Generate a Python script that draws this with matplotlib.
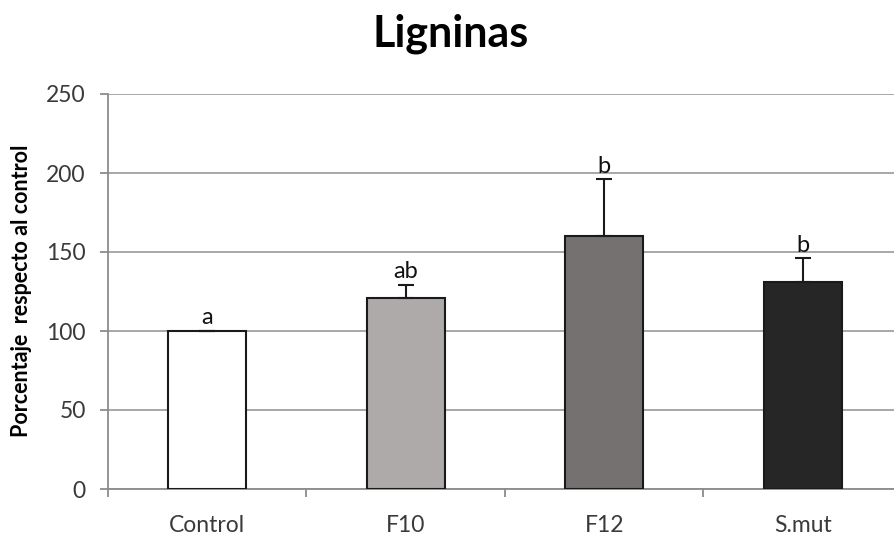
import matplotlib
matplotlib.use("Agg")
import matplotlib.pyplot as plt
from matplotlib.ticker import FixedLocator

# data
groups = ["Control", "F10", "F12", "S.mut"]
means = [100, 121, 160, 131]
errs = [0, 8, 36, 15]
letters = ["a", "ab", "b", "b"]
colors = ["#FFFFFF", "#AEAAAA", "#757171", "#262626"]

plt.rcParams["font.family"] = ["Lato", "DejaVu Sans"]

W, H = 895, 538
fig = plt.figure(figsize=(W / 100, H / 100), dpi=100)
ax = fig.add_axes([108 / W, 49 / H, 794 / W, 395 / H])

x = list(range(len(groups)))
ax.bar(x, means, width=0.393, color=colors, edgecolor="#1a1a1a", linewidth=1.5, zorder=3)
ax.errorbar(x, means, yerr=[[0] * len(errs), errs], fmt="none", ecolor="#1a1a1a",
            elinewidth=1.5, capsize=6, capthick=1.5, zorder=4)

for xi, m, e, lab in zip(x, means, errs, letters):
    ax.annotate(lab, xy=(xi, m + e), xytext=(0, 2), textcoords="offset points",
                ha="center", va="bottom", fontsize=17, color="#111111")

ax.set_xlim(-0.5, 3.5)
ax.set_ylim(0, 250)
ax.set_yticks(range(0, 251, 50))
ax.grid(axis="y", color="#A0A0A0", lw=1.3, zorder=0)

ax.set_xticks(x)
ax.set_xticklabels(groups)
ax.xaxis.set_minor_locator(FixedLocator([-0.5, 0.5, 1.5, 2.5, 3.5]))
ax.tick_params(axis="x", which="major", length=0, pad=19, labelsize=16.5, labelcolor="#3a3a3a")
ax.tick_params(axis="x", which="minor", length=6, width=1.3, color="#8C8C8C", direction="out")
ax.tick_params(axis="y", length=6, width=1.3, color="#8C8C8C", pad=10, labelsize=16.5,
               labelcolor="#3a3a3a")

for s in ["top", "right"]:
    ax.spines[s].set_visible(False)
for s in ["left", "bottom"]:
    ax.spines[s].set_color("#8C8C8C")
    ax.spines[s].set_linewidth(1.3)

fig.text(451 / W, 1 - 47 / H, "Ligninas", ha="center", va="baseline",
         fontsize=31, fontweight="bold")
fig.text(22 / W, 1 - 291 / H, "Porcentaje  respecto al control", rotation=90,
         ha="center", va="center", fontsize=15.5, fontweight="bold")

fig.savefig("out.png", dpi=100)
